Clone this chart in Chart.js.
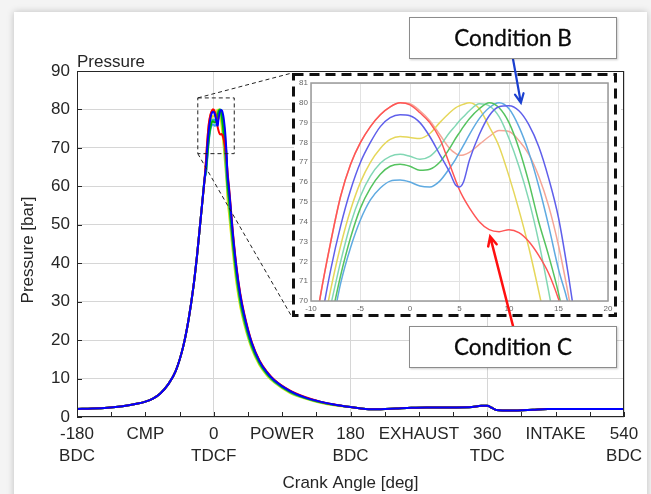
<!DOCTYPE html>
<html>
<head>
<meta charset="utf-8">
<script src="https://cdn.jsdelivr.net/npm/chart.js@4.4.1/dist/chart.umd.min.js"></script>
<style>
  html, body { margin: 0; padding: 0; }
  body { width: 651px; height: 494px; background: #f4f4f4; position: relative; overflow: hidden; }
  #card { position: absolute; left: 14px; top: 12px; width: 633px; height: 500px; background: #fff; box-shadow: 0 0 7px rgba(0,0,0,0.22); }
  #main { position: absolute; left: 0; top: 0; }
  #insetWrap { position: absolute; left: 294px; top: 75px; width: 327px; height: 240px; background: #fff; }
  #overlay { position: absolute; left: 0; top: 0; pointer-events: none; }
  .cond { position: absolute; left: 409px; width: 206px; height: 40px; background: #fff;
          border: 1px solid #8c8c8c; box-shadow: 1px 1px 2px rgba(0,0,0,0.2);
          font-family: Lato, "Open Sans", sans-serif; font-size: 22.5px; color: #0a0a0a;
          text-align: center; line-height: 40px; -webkit-text-stroke: 0.3px #0a0a0a; }
</style>
</head>
<body>
<div id="card"></div>
<canvas id="main" width="651" height="494"></canvas>
<div id="insetWrap"><canvas id="inset" width="327" height="240"></canvas></div>
<canvas id="overlay" width="651" height="494"></canvas>
<div class="cond" style="top:17px">Condition B</div>
<div class="cond" style="top:326px">Condition C</div>
<script>
// x axis labels of the main chart (every 90 deg)
const xTickTop = ['-180', 'CMP', '0', 'POWER', '180', 'EXHAUST', '360', 'INTAKE', '540'];
const xTickBottom = ['BDC', '', 'TDCF', '', 'BDC', '', 'TDC', '', 'BDC'];

// compression stroke, all runs overlap here
const compAngle = [-180, -160, -140, -120, -100, -90, -80, -70, -60, -50, -40, -33, -27, -22, -18, -15, -12];
const compP = [2.1, 2.2, 2.4, 2.8, 3.5, 4.0, 4.8, 6.2, 8.5, 12.0, 18.5, 25.5, 33.5, 42, 50, 56, 62];

// peak region (also shown in the zoomed inset)
const insetAngle = [-10, -9, -8, -7, -6, -5, -4, -3, -2, -1, 0, 1, 2, 3, 4, 4.6, 5, 5.4, 6, 7, 8, 9, 10, 11, 12, 13, 14, 15, 16, 17];
const peakBlue = [65.8, 68.9, 71.6, 73.8, 75.6, 77.0, 78.0, 78.8, 79.25, 79.4, 79.35, 79.0, 78.3, 77.4, 76.5, 75.85, 75.75, 76.0, 77.1, 78.4, 79.35, 79.8, 79.85, 79.6, 78.9, 77.8, 76.2, 74.2, 71.3, 68.0];
const peakRed = [67.3, 70.4, 73.0, 75.3, 76.9, 78.0, 78.8, 79.4, 79.8, 80.0, 79.9, 79.5, 79.0, 78.2, 76.9, 76.1, 75.6, 75.2, 74.7, 74.0, 73.6, 73.5, 73.6, 73.45, 73.0, 72.3, 71.4, 70.1, 68.5, 66.5];
const peakSalmon = [67.3, 70.4, 73.0, 75.3, 76.9, 78.0, 78.8, 79.4, 79.8, 80.0, 79.95, 79.6, 79.1, 78.4, 77.7, 77.45, 77.35, 77.37, 77.5, 77.9, 78.3, 78.6, 78.55, 78.1, 77.4, 76.3, 74.8, 72.8, 70.3, 67.5];
const peakYellow = [65.3, 68.0, 70.6, 72.8, 74.6, 76.0, 77.0, 77.7, 78.15, 78.3, 78.25, 78.2, 78.45, 79.0, 79.5, 79.75, 79.85, 79.93, 80.0, 79.7, 78.8, 77.8, 76.3, 74.6, 72.7, 70.5, 68.2, 65.8, 63.3, 60.8];
const peakTeal = [65.0, 67.6, 69.8, 72.0, 73.9, 75.3, 76.3, 76.95, 77.3, 77.4, 77.3, 77.15, 77.3, 77.8, 78.5, 78.85, 79.1, 79.3, 79.6, 79.95, 79.85, 79.3, 78.2, 76.8, 75.1, 73.0, 70.5, 67.8, 65.0, 62.0];
const peakGreen = [64.3, 66.7, 69.0, 71.3, 73.2, 74.7, 75.7, 76.4, 76.8, 76.9, 76.8, 76.6, 76.65, 77.0, 77.7, 78.2, 78.5, 78.8, 79.2, 79.7, 80.0, 79.75, 79.0, 77.7, 76.0, 74.0, 72.3, 70.4, 68.0, 65.5];
const peakLightBlue = [63.5, 66.0, 68.4, 70.9, 72.7, 74.1, 75.1, 75.7, 76.05, 76.1, 76.0, 75.8, 75.75, 76.05, 76.7, 77.15, 77.5, 77.85, 78.4, 79.2, 79.75, 80.0, 79.7, 78.8, 77.5, 75.8, 73.8, 71.6, 69.8, 67.0];

// expansion stroke
const expAngle = [18, 20, 22, 25, 30, 35, 40, 50, 60, 70, 80, 100, 120, 140, 160];
const expBlue = [63.5, 59.5, 55, 48, 38.6, 31.6, 26.6, 19.3, 14.6, 11.6, 9.5, 6.8, 5.1, 4.0, 3.2];
const expRed = [64, 60, 55.5, 48.5, 39, 32, 27, 19.5, 14.8, 11.8, 9.6, 6.9, 5.2, 4.0, 3.2];
const expSalmon = [63, 59, 54.5, 47.5, 38.3, 31.5, 26.5, 19.2, 14.6, 11.6, 9.5, 6.8, 5.1, 4.0, 3.2];
const expYellow = [57, 53, 49, 43, 34.6, 28.5, 24.2, 17.7, 13.5, 10.8, 8.9, 6.3, 4.8, 3.7, 3.0];
const expTeal = [59.5, 55.5, 51, 44.8, 36, 29.6, 25, 18.2, 13.9, 11.1, 9.1, 6.5, 4.9, 3.8, 3.1];
const expGreen = [61, 57, 52.5, 46, 37, 30.3, 25.6, 18.6, 14.2, 11.3, 9.3, 6.6, 5.0, 3.9, 3.1];
const expLightBlue = [62.5, 58.5, 54, 47, 38, 31, 26.2, 19, 14.4, 11.5, 9.4, 6.7, 5.0, 3.9, 3.1];

// exhaust + intake, all runs overlap here
const gasAngle = [180, 200, 220, 240, 260, 280, 300, 320, 340, 352, 360, 366, 372, 380, 400, 420, 440, 470, 500, 540];
const gasP = [2.6, 2.1, 2.0, 2.2, 2.4, 2.5, 2.5, 2.5, 2.6, 2.9, 2.9, 2.4, 1.8, 1.7, 1.7, 1.9, 2.1, 2.1, 2.1, 2.1];

// where the two callout arrows point, in inset units (deg, bar)
const arrowB = { x: 11.2, y: 80.0 };
const arrowC = { x: 8.1, y: 73.25 };

const FONT = '"Liberation Sans", Arial, Helvetica, sans-serif';

// first dataset is drawn on top
const runs = [
  { peak: peakBlue, exp: expBlue, main: '#0000ff', light: 'rgb(95,95,235)' },
  { peak: peakRed, exp: expRed, main: '#ff0000', light: 'rgb(255,85,85)' },
  { peak: peakGreen, exp: expGreen, main: '#00b400', light: 'rgb(85,195,95)' },
  { peak: peakLightBlue, exp: expLightBlue, main: '#2a9df4', light: 'rgb(95,170,225)' },
  { peak: peakTeal, exp: expTeal, main: '#20c0a0', light: 'rgb(130,215,180)' },
  { peak: peakYellow, exp: expYellow, main: '#e6e600', light: 'rgb(230,215,90)' },
  { peak: peakSalmon, exp: expSalmon, main: '#ff6a50', light: 'rgb(245,165,150)' }
];

function zip(xs, ys) {
  return xs.map((x, i) => ({ x: x, y: ys[i] }));
}

const mainSets = runs.map(r => ({
  data: zip(compAngle.concat(insetAngle, expAngle, gasAngle), compP.concat(r.peak, r.exp, gasP)),
  borderColor: r.main,
  borderWidth: 2,
  pointRadius: 0,
  cubicInterpolationMode: 'monotone'
}));

const insetSets = runs.map(r => ({
  data: zip(insetAngle, r.peak),
  borderColor: r.light,
  borderWidth: 1.5,
  pointRadius: 0,
  cubicInterpolationMode: 'monotone'
}));

// box, inward ticks, titles and the zoom marker on the main chart
const mainFrame = {
  id: 'mainFrame',
  afterDraw(chart) {
    const { ctx, chartArea: a, scales: { x, y } } = chart;
    ctx.save();
    ctx.strokeStyle = '#262626';
    ctx.lineWidth = 1;
    ctx.strokeRect(a.left + 0.5, a.top + 0.5, a.right - a.left - 1, a.bottom - a.top - 1);
    ctx.beginPath();
    x.ticks.forEach(t => {
      const px = Math.round(x.getPixelForValue(t.value)) + 0.5;
      ctx.moveTo(px, a.bottom);
      ctx.lineTo(px, a.bottom - 5);
    });
    y.ticks.forEach(t => {
      const py = Math.round(y.getPixelForValue(t.value)) + 0.5;
      ctx.moveTo(a.left, py);
      ctx.lineTo(a.left + 5, py);
    });
    ctx.stroke();

    ctx.fillStyle = '#262626';
    ctx.font = '17px ' + FONT;
    ctx.textAlign = 'left';
    ctx.textBaseline = 'alphabetic';
    ctx.fillText('Pressure', a.left, a.top - 4);
    ctx.translate(28, 250);
    ctx.rotate(-Math.PI / 2);
    ctx.textAlign = 'center';
    ctx.textBaseline = 'middle';
    ctx.fillText('Pressure [bar]', 0, 0);
    ctx.setTransform(1, 0, 0, 1, 0, 0);

    // dashed marker around the peak and its links to the inset
    const x0 = x.getPixelForValue(-21), x1 = x.getPixelForValue(27);
    const y0 = y.getPixelForValue(83), y1 = y.getPixelForValue(68.5);
    ctx.strokeStyle = '#222';
    ctx.setLineDash([4, 3]);
    ctx.strokeRect(x0, y0, x1 - x0, y1 - y0);
    ctx.beginPath();
    ctx.moveTo(x0, y0); ctx.lineTo(292, 73);
    ctx.moveTo(x0, y1); ctx.lineTo(292, 317);
    ctx.stroke();
    ctx.restore();
  }
};

const mainChart = new Chart(document.getElementById('main'), {
  type: 'line',
  data: { datasets: mainSets },
  options: {
    responsive: false,
    animation: false,
    layout: { padding: { left: 14, right: 27, top: 71, bottom: 0 } },
    plugins: { legend: { display: false }, tooltip: { enabled: false } },
    scales: {
      x: {
        type: 'linear', min: -180, max: 540,
        afterFit: s => { s.height = 77; },
        ticks: {
          stepSize: 45, autoSkip: false, maxRotation: 0, padding: 7, color: '#262626',
          font: { size: 17, family: FONT, lineHeight: 1.25 },
          callback: v => {
            if (v % 90 !== 0) return '';
            const i = (v + 180) / 90;
            return xTickBottom[i] ? [xTickTop[i], xTickBottom[i]] : xTickTop[i];
          }
        },
        grid: {
          drawTicks: false,
          color: c => (c.tick && c.tick.value % 180 === 0) ? '#d6d6d6' : 'rgba(0,0,0,0)'
        },
        border: { display: false },
        title: { display: true, text: 'Crank Angle [deg]', color: '#262626', padding: 0, font: { size: 17, family: FONT } }
      },
      y: {
        min: 0, max: 90,
        afterFit: s => { s.width = 63; },
        ticks: { stepSize: 10, padding: 7, color: '#262626', font: { size: 17, family: FONT } },
        grid: { drawTicks: false, color: '#d6d6d6' },
        border: { display: false }
      }
    }
  },
  plugins: [mainFrame]
});

const insetFrame = {
  id: 'insetFrame',
  afterDraw(chart) {
    const { ctx, chartArea: a } = chart;
    ctx.save();
    ctx.strokeStyle = '#9a9a9a';
    ctx.lineWidth = 1.5;
    ctx.strokeRect(a.left, a.top, a.right - a.left, a.bottom - a.top);
    ctx.restore();
  }
};

const insetChart = new Chart(document.getElementById('inset'), {
  type: 'line',
  data: { datasets: insetSets },
  options: {
    responsive: false,
    animation: false,
    layout: { padding: { left: 0, right: 13, top: 8, bottom: 0 } },
    plugins: { legend: { display: false }, tooltip: { enabled: false } },
    scales: {
      x: {
        type: 'linear', min: -10, max: 20,
        afterFit: s => { s.height = 14; },
        ticks: { stepSize: 5, padding: 3, maxRotation: 0, color: '#666', font: { size: 8, family: FONT } },
        grid: { drawTicks: false, color: '#e2e2e2' },
        border: { display: false }
      },
      y: {
        min: 70, max: 81,
        afterFit: s => { s.width = 17; },
        ticks: { stepSize: 1, padding: 3, color: '#666', font: { size: 8, family: FONT } },
        grid: { drawTicks: false, color: '#e2e2e2' },
        border: { display: false }
      }
    }
  },
  plugins: [insetFrame]
});

// dashed frame round the inset and the two callout arrows
const oc = document.getElementById('overlay').getContext('2d');
oc.strokeStyle = '#111';
oc.lineWidth = 3;
oc.setLineDash([10, 6]);
oc.strokeRect(293.5, 74.5, 322, 241);
oc.setLineDash([]);

function arrow(fromX, fromY, toX, toY, color, width) {
  const ang = Math.atan2(toY - fromY, toX - fromX);
  oc.strokeStyle = color;
  oc.lineWidth = width;
  oc.lineCap = 'round';
  oc.beginPath();
  oc.moveTo(fromX, fromY);
  oc.lineTo(toX, toY);
  oc.moveTo(toX - 10 * Math.cos(ang - 0.45), toY - 10 * Math.sin(ang - 0.45));
  oc.lineTo(toX, toY);
  oc.lineTo(toX - 10 * Math.cos(ang + 0.45), toY - 10 * Math.sin(ang + 0.45));
  oc.stroke();
}
const ix = insetChart.scales.x, iy = insetChart.scales.y;
arrow(513, 59, 294 + ix.getPixelForValue(arrowB.x), 75 + iy.getPixelForValue(arrowB.y), '#1a3fd0', 2.2);
arrow(513, 326, 294 + ix.getPixelForValue(arrowC.x), 75 + iy.getPixelForValue(arrowC.y), '#ff1010', 2.5);
</script>
</body>
</html>
